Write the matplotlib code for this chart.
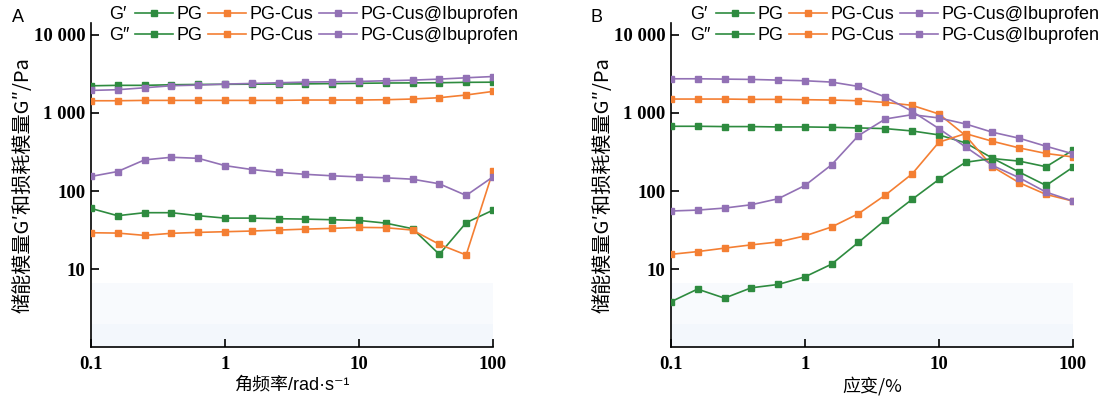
import numpy as np
import matplotlib.pyplot as plt
from matplotlib.lines import Line2D
from matplotlib.ticker import FixedLocator, FixedFormatter, NullLocator

# x grid (5 points per decade, 0.1 .. 100)
freq = [0.1, 0.158, 0.251, 0.398, 0.631, 1, 1.58, 2.51, 3.98, 6.31, 10, 15.8, 25.1, 39.8, 63.1, 100]
strain = [0.1, 0.158, 0.251, 0.398, 0.631, 1, 1.58, 2.51, 3.98, 6.31, 10, 15.8, 25.1, 39.8, 63.1, 100]

# Panel A: frequency sweep
a_pg_g1 = [2230, 2260, 2260, 2300, 2320, 2330, 2340, 2350, 2360, 2380, 2400, 2420, 2430, 2440, 2470, 2480]
a_cus_g1 = [1435, 1435, 1450, 1450, 1450, 1450, 1450, 1450, 1466, 1466, 1466, 1479, 1510, 1570, 1700, 1890]
a_ibu_g1 = [1945, 1987, 2104, 2234, 2278, 2346, 2389, 2438, 2489, 2512, 2535, 2588, 2636, 2716, 2825, 2931]
a_pg_g2 = [60, 48.4, 52.9, 52.9, 48.4, 45.1, 45.1, 44.3, 43.8, 43.0, 42.1, 38.9, 33.0, 15.5, 39.4, 57]
a_cus_g2 = [29.3, 29.0, 27.1, 28.8, 29.6, 30.2, 30.8, 31.7, 32.6, 33.3, 34.3, 34.0, 31.7, 20.8, 15.2, 180]
a_ibu_g2 = [154, 178, 251, 271, 263, 212, 189, 174, 164, 157, 152, 148, 142, 124, 88, 152]

# Panel B: strain sweep
b_pg_g1 = [676, 676, 670, 670, 663, 663, 656, 644, 631, 589, 524, 414, 264, 175, 118, 202]
b_cus_g1 = [1509, 1509, 1509, 1494, 1494, 1480, 1465, 1436, 1368, 1253, 971, 514, 205, 128, 90.6, 74.5]
b_ibu_g1 = [2742, 2742, 2716, 2692, 2637, 2588, 2488, 2188, 1600, 1050, 631, 368, 213, 148, 97, 74.5]
b_pg_g2 = [3.83, 5.56, 4.26, 5.78, 6.37, 7.98, 11.6, 22.1, 42.7, 78.4, 141, 234, 261, 242, 205, 334]
b_cus_g2 = [15.5, 16.8, 18.6, 20.5, 22.3, 26.7, 34.7, 51.4, 88.9, 166, 423, 545, 434, 357, 303, 274]
b_ibu_g2 = [55.6, 57.1, 60.6, 66.9, 79.8, 118, 217, 514, 838, 952, 864, 724, 567, 475, 375, 300]

series_names = ['PG', 'PG-Cus', 'PG-Cus@Ibuprofen']
colors = ['#2e8b3f', '#f47f33', '#9271b5']

yticks = [10, 100, 1000, 10000]
ytick_labels = ['10', '100', '1 000', '10 000']
xticks = [0.1, 1, 10, 100]
xtick_labels = ['0.1', '1', '10', '100']

cjk = ['Noto Sans CJK SC', 'DejaVu Sans']
latin_cjk = ['Liberation Sans', 'Noto Sans CJK SC', 'DejaVu Sans']
tick_font = {'family': 'Liberation Serif', 'weight': 'bold', 'size': 13.5}

fig = plt.figure(figsize=(11.07, 3.98), dpi=100)
ax_a = fig.add_axes([0.0822, 0.1274, 0.3631, 0.8148])
ax_b = fig.add_axes([0.6061, 0.1274, 0.3631, 0.8148])


def style_axis(ax, xs, g1_list, g2_list, xlabel, xfamily):
    # faint shaded band near the bottom of each panel
    ax.axhspan(1, 2.0, color='#f3f7fc', lw=0, zorder=0)
    ax.axhspan(2.0, 6.6, color='#f8fafd', lw=0, zorder=0)
    for vals, c in zip(g1_list, colors):
        ax.plot(xs, vals, color=c, lw=1.2, marker='s', ms=5, mec=c, zorder=3)
    for vals, c in zip(g2_list, colors):
        ax.plot(xs, vals, color=c, lw=1.2, marker='s', ms=5, mec=c, zorder=3)
    ax.set_xscale('log')
    ax.set_yscale('log')
    ax.set_xlim(0.1, 100)
    ax.set_ylim(1, 14200)
    ax.xaxis.set_major_locator(FixedLocator(xticks))
    ax.xaxis.set_major_formatter(FixedFormatter(xtick_labels))
    ax.yaxis.set_major_locator(FixedLocator(yticks))
    ax.yaxis.set_major_formatter(FixedFormatter(ytick_labels))
    ax.xaxis.set_minor_locator(NullLocator())
    ax.yaxis.set_minor_locator(NullLocator())
    ax.tick_params(direction='in', length=6, width=1.2, pad=4)
    ax.tick_params(axis='x', pad=6)
    for lab in ax.get_xticklabels() + ax.get_yticklabels():
        lab.set_fontproperties(tick_font)
    for side in ['top', 'right']:
        ax.spines[side].set_visible(False)
    for side in ['left', 'bottom']:
        ax.spines[side].set_linewidth(1.2)
    ax.set_xlabel(xlabel, family=xfamily, fontsize=13, labelpad=3)
    ax.set_ylabel('储能模量G′和损耗模量G″/Pa', family=cjk, fontsize=14.5, labelpad=0)


style_axis(ax_a, freq, [a_pg_g1, a_cus_g1, a_ibu_g1], [a_pg_g2, a_cus_g2, a_ibu_g2],
           '角频率/rad·s⁻¹', latin_cjk)
style_axis(ax_b, strain, [b_pg_g1, b_cus_g1, b_ibu_g1], [b_pg_g2, b_cus_g2, b_ibu_g2],
           '应变/%', cjk)


def add_legend(x0):
    blank = Line2D([], [], color='none')
    handles = [blank, blank]
    labels = ['G′', 'G″']
    for name, c in zip(series_names, colors):
        h = Line2D([], [], color=c, lw=1.2, marker='s', ms=5, mec=c)
        handles += [h, h]
        labels += [name, name]
    fig.legend(handles, labels, ncol=4, loc='upper left', bbox_to_anchor=(x0, 0.985),
               frameon=False, prop={'family': 'Liberation Sans', 'size': 13},
               handlelength=2.1, handletextpad=0.2, columnspacing=0.3,
               labelspacing=0.25, borderpad=0, borderaxespad=0)


add_legend(68 / 1107)
add_legend(649 / 1107)

fig.text(18 / 1107, 1 - 18 / 398, 'A', family='Liberation Sans', fontsize=13, ha='center', va='center')
fig.text(597 / 1107, 1 - 18 / 398, 'B', family='Liberation Sans', fontsize=13, ha='center', va='center')

fig.savefig('out.png', dpi=100)
